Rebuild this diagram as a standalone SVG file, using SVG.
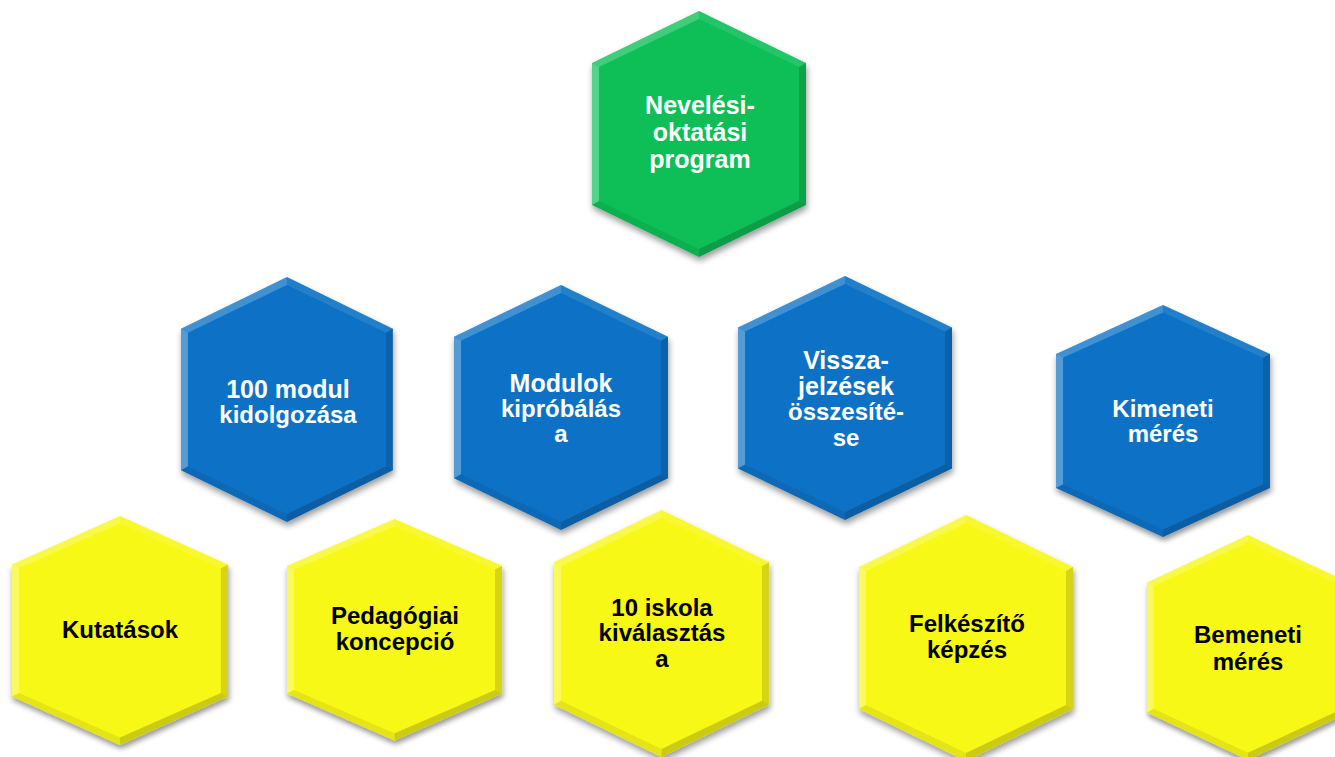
<svg xmlns="http://www.w3.org/2000/svg" xmlns:xlink="http://www.w3.org/1999/xlink" width="1335" height="757" viewBox="0 0 1335 757">
<style>
text{font-family:"Liberation Sans",Arial,sans-serif;font-weight:bold;font-size:24px;text-anchor:middle}
.w{fill:#ffffff}
.k{fill:#000000}
.green{fill:#0BBF57}
.blue{fill:#0A72C6}
.yellow{fill:#F8F817}
</style>
<defs>
<filter id="sh" x="-10%" y="-10%" width="120%" height="125%">
<feGaussianBlur in="SourceAlpha" stdDeviation="3"/>
<feOffset dx="1" dy="4" result="b"/>
<feComponentTransfer><feFuncA type="linear" slope="0.4"/></feComponentTransfer>
<feMerge><feMergeNode/><feMergeNode in="SourceGraphic"/></feMerge>
</filter>
<g id="hex">
<polygon points="107,0 0,52 0,194 107,246 214,194 214,52"/>
<polygon points="107,0 0,52 7,56 107,8" fill="#fff" fill-opacity="0.22"/>
<polygon points="0,52 0,194 7,190 7,56" fill="#fff" fill-opacity="0.3"/>
<polygon points="0,194 107,246 107,238 7,190" fill="#000" fill-opacity="0.08"/>
<polygon points="107,246 214,194 207,190 107,238" fill="#000" fill-opacity="0.18"/>
<polygon points="214,194 214,52 207,56 207,190" fill="#000" fill-opacity="0.14"/>
<polygon points="214,52 107,0 107,8 207,56" fill="#fff" fill-opacity="0.1"/>
</g>
</defs>
<g id="connectors"/>
<g id="n-neveles">
<use xlink:href="#hex" class="green" filter="url(#sh)" transform="translate(592,11)"/>
<text class="w" x="700" y="114" style="font-size:25px">Nevelési-</text>
<text class="w" x="700" y="141" style="font-size:25px">oktatási</text>
<text class="w" x="700" y="168" style="font-size:25px">program</text>
</g>
<g id="n-100modul">
<use xlink:href="#hex" class="blue" filter="url(#sh)" transform="translate(181,277) scale(0.99,0.996)"/>
<text class="w" x="288" y="398" style="font-size:25px">100 modul</text>
<text class="w" x="288" y="423">kidolgozása</text>
</g>
<g id="n-kiprobalas">
<use xlink:href="#hex" class="blue" filter="url(#sh)" transform="translate(454,285) scale(1,0.996)"/>
<text class="w" x="561" y="392" style="font-size:25px">Modulok</text>
<text class="w" x="561" y="417">kipróbálás</text>
<text class="w" x="561" y="442">a</text>
</g>
<g id="n-visszajelzesek">
<use xlink:href="#hex" class="blue" filter="url(#sh)" transform="translate(738,276) scale(1,0.992)"/>
<text class="w" x="846" y="369" style="font-size:25px">Vissza-</text>
<text class="w" x="846" y="395" style="font-size:25px">jelzések</text>
<text class="w" x="846" y="420">összesíté-</text>
<text class="w" x="846" y="446">se</text>
</g>
<g id="n-kimeneti">
<use xlink:href="#hex" class="blue" filter="url(#sh)" transform="translate(1056,305) scale(1,0.943)"/>
<text class="w" x="1163" y="417">Kimeneti</text>
<text class="w" x="1163" y="442">mérés</text>
</g>
<g id="n-kutatasok">
<use xlink:href="#hex" class="yellow" filter="url(#sh)" transform="translate(12,516) scale(1.009,0.931)"/>
<text class="k" x="120" y="638">Kutatások</text>
</g>
<g id="n-pedagogiai">
<use xlink:href="#hex" class="yellow" filter="url(#sh)" transform="translate(287,519) scale(1.005,0.9)"/>
<text class="k" x="395" y="624">Pedagógiai</text>
<text class="k" x="395" y="650">koncepció</text>
</g>
<g id="n-iskola">
<use xlink:href="#hex" class="yellow" filter="url(#sh)" transform="translate(554,510) scale(1.005,1.004)"/>
<text class="k" x="662" y="616">10 iskola</text>
<text class="k" x="662" y="641">kiválasztás</text>
<text class="k" x="662" y="667">a</text>
</g>
<g id="n-felkeszito">
<use xlink:href="#hex" class="yellow" filter="url(#sh)" transform="translate(859,515)"/>
<text class="k" x="967" y="632">Felkészítő</text>
<text class="k" x="967" y="658">képzés</text>
</g>
<g id="n-bemeneti">
<use xlink:href="#hex" class="yellow" filter="url(#sh)" transform="translate(1147,535) scale(0.944,0.915)"/>
<text class="k" x="1248" y="643">Bemeneti</text>
<text class="k" x="1248" y="670">mérés</text>
</g>
</svg>
